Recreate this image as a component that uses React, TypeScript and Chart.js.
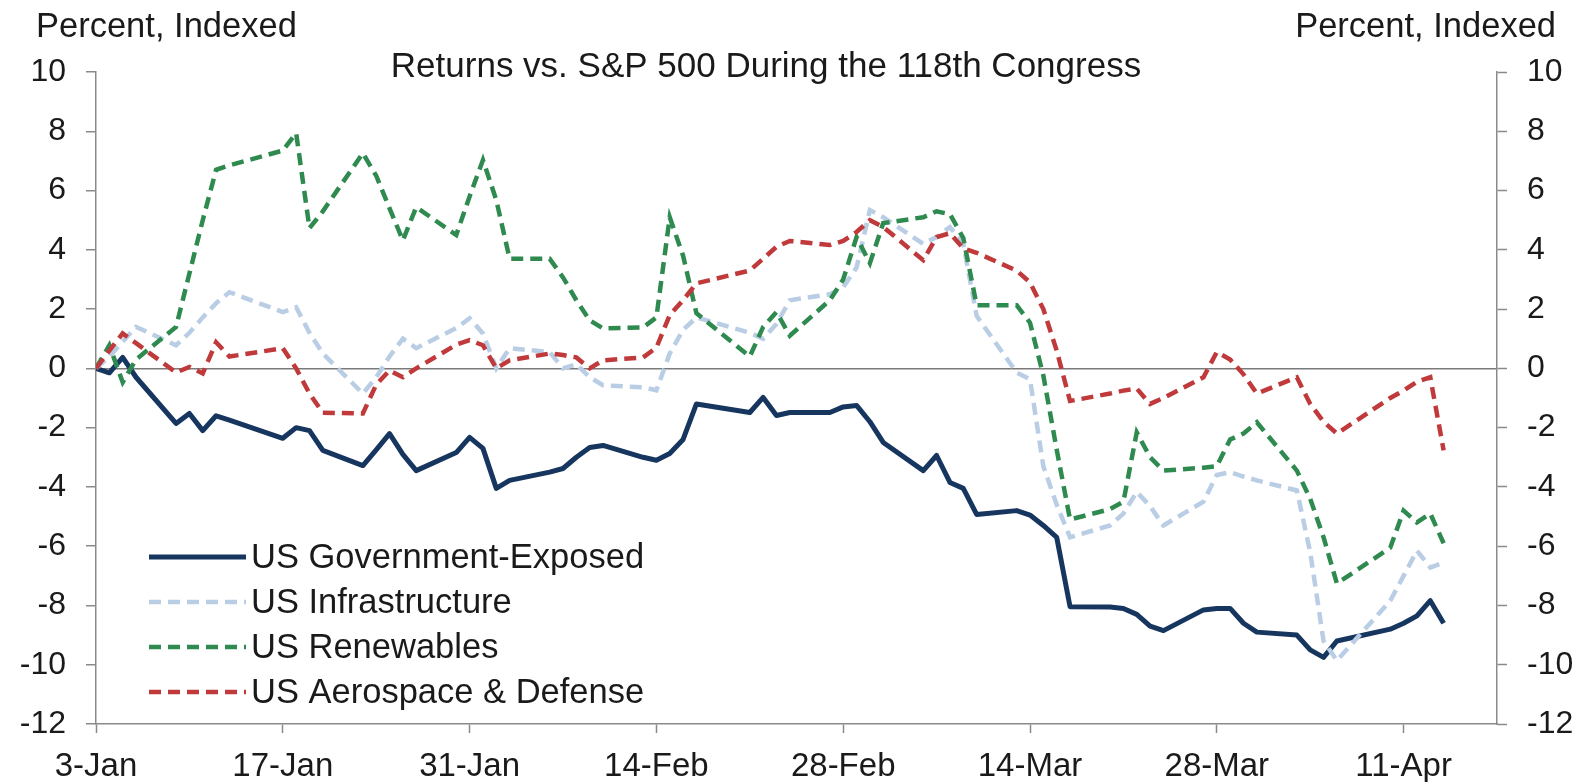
import { useEffect, useRef } from "react";
import { Chart, registerables } from "chart.js";

Chart.register(...registerables);

// ---------- DATA ----------
const dates = [
  "2023-01-03", "2023-01-04", "2023-01-05", "2023-01-06", "2023-01-09", "2023-01-10", "2023-01-11", "2023-01-12", "2023-01-13",
  "2023-01-17", "2023-01-18", "2023-01-19", "2023-01-20", "2023-01-23", "2023-01-24", "2023-01-25", "2023-01-26", "2023-01-27",
  "2023-01-30", "2023-01-31",
  "2023-02-01", "2023-02-02", "2023-02-03", "2023-02-06", "2023-02-07", "2023-02-08", "2023-02-09", "2023-02-10", "2023-02-13",
  "2023-02-14", "2023-02-15", "2023-02-16", "2023-02-17", "2023-02-21", "2023-02-22", "2023-02-23", "2023-02-24", "2023-02-27",
  "2023-02-28",
  "2023-03-01", "2023-03-02", "2023-03-03", "2023-03-06", "2023-03-07", "2023-03-08", "2023-03-09", "2023-03-10", "2023-03-13",
  "2023-03-14", "2023-03-15", "2023-03-16", "2023-03-17", "2023-03-20", "2023-03-21", "2023-03-22", "2023-03-23", "2023-03-24",
  "2023-03-27", "2023-03-28", "2023-03-29", "2023-03-30", "2023-03-31",
  "2023-04-03", "2023-04-04", "2023-04-05", "2023-04-06", "2023-04-10", "2023-04-11", "2023-04-12", "2023-04-13", "2023-04-14",
];

const govExposed = [
  0, -0.15, 0.37, -0.3, -1.86, -1.52, -2.1, -1.6, -1.75, -2.36, -2.0, -2.1, -2.77, -3.28, -2.75, -2.2, -2.9, -3.45, -2.84, -2.33,
  -2.7, -4.05, -3.78, -3.5, -3.38, -3.0, -2.67, -2.6, -3.0, -3.1, -2.87, -2.4, -1.2, -1.49, -0.98, -1.59, -1.49, -1.49, -1.3,
  -1.25, -1.8, -2.5, -3.45, -2.94, -3.85, -4.05, -4.93, -4.8, -4.95, -5.3, -5.7, -8.04, -8.05, -8.1, -8.3, -8.7, -8.85, -8.15,
  -8.1, -8.1, -8.6, -8.9,
  -9.0, -9.5, -9.75, -9.2, -8.8, -8.6, -8.35, -7.84, -8.6,
];

const infrastructure = [
  0, 0.4, 0.9, 1.4, 0.78, 1.2, 1.72, 2.2, 2.57, 1.9, 2.06, 1.2, 0.5, -0.85, -0.3, 0.4, 1.0, 0.68, 1.36, 1.69,
  1.18, 0.0, 0.68, 0.55, 0.0, 0.14, -0.3, -0.57, -0.64, -0.74, 0.5, 1.3, 1.72, 1.2, 1.0, 1.5, 2.3, 2.5, 2.74,
  3.4, 5.34, 5.1, 4.2, 4.43, 4.77, 4.2, 1.77, -0.14, -0.37, -3.3, -4.6, -5.7, -5.3, -4.9, -4.17, -4.65, -5.3, -4.5,
  -3.6, -3.5, -3.65, -3.78,
  -4.12, -6.2, -9.2, -9.86, -7.84, -7.0, -6.15, -6.72, -6.55,
];

const renewables = [
  0, 0.78, -0.47, 0.3, 1.4, 3.2, 5.0, 6.7, 6.85, 7.35, 7.94, 4.73, 5.3, 7.26, 6.5, 5.4, 4.32, 5.44, 4.5, 5.8,
  7.03, 5.68, 3.7, 3.7, 3.07, 2.3, 1.62, 1.35, 1.38, 1.72, 5.1, 3.8, 1.86, 0.4, 1.4, 1.9, 1.1, 2.3, 3.0,
  4.43, 3.55, 4.9, 5.1, 5.3, 5.2, 4.4, 2.13, 2.13, 1.54, -0.24, -2.74, -5.1, -4.75, -4.5, -2.16, -3.0, -3.45, -3.35,
  -3.3, -2.4, -2.2, -1.82,
  -3.45, -4.4, -5.7, -7.26, -6.05, -4.8, -5.2, -4.9, -5.9,
];

const aerospace = [
  0, 0.6, 1.18, 0.85, -0.14, 0.05, -0.17, 0.88, 0.4, 0.68, 0.0, -0.85, -1.5, -1.52, -0.55, -0.07, -0.3, 0.0, 0.8, 0.95,
  0.78, 0.0, 0.27, 0.5, 0.45, 0.37, 0.0, 0.27, 0.37, 0.7, 1.8, 2.3, 2.87, 3.3, 3.7, 4.1, 4.3, 4.16, 4.3,
  4.6, 5.0, 4.77, 3.65, 4.43, 4.56, 4.05, 3.9, 3.3, 2.9, 2.0, 0.6, -1.1, -0.85, -0.75, -0.68, -1.2, -1.0, -0.3,
  0.55, 0.3, -0.2, -0.85,
  -0.3, -1.2, -1.8, -2.2, -1.0, -0.75, -0.45, -0.3, -2.77,
];

const seriesNames = ["US Government-Exposed", "US Infrastructure", "US Renewables", "US Aerospace & Defense"];
const xTickDates = ["2023-01-03", "2023-01-17", "2023-01-31", "2023-02-14", "2023-02-28", "2023-03-14", "2023-03-28", "2023-04-11"];
const xTickLabels = ["3-Jan", "17-Jan", "31-Jan", "14-Feb", "28-Feb", "14-Mar", "28-Mar", "11-Apr"];
const axisEndDate = "2023-04-18";
const yMin = -12;
const yMax = 10;
const yStep = 2;
const chartTitle = "Returns vs. S&P 500 During the 118th Congress";
const axisTitle = "Percent, Indexed";

// ---------- STYLE ----------
const FONT = "'Liberation Sans', Arial, Helvetica, sans-serif";
const TEXT = "#1a1a1a";
const AXIS = "#8a8a8a";
const ZERO = "#7a7a7a";
const NAVY = "#17365f";
const LIGHTBLUE = "#b9cde5";
const GREEN = "#2e8a4e";
const RED = "#c0393b";

const dayOf = (s: string) =>
  (Date.parse(s + "T00:00:00Z") - Date.parse(dates[0] + "T00:00:00Z")) / 86400000;

const toPoints = (vals: number[]) => vals.map((v, i) => ({ x: dayOf(dates[i]), y: v }));

const overlayPlugin = {
  id: "overlayText",
  afterDraw(chart: any) {
    const ctx = chart.ctx as CanvasRenderingContext2D;
    ctx.save();
    ctx.fillStyle = TEXT;
    ctx.textBaseline = "alphabetic";
    ctx.font = `34.5px ${FONT}`;
    ctx.textAlign = "left";
    ctx.fillText(axisTitle, 36, 37);
    ctx.textAlign = "right";
    ctx.fillText(axisTitle, 1556, 37);
    ctx.font = `35px ${FONT}`;
    ctx.textAlign = "center";
    ctx.fillText(chartTitle, 766, 77);

    // legend
    const ds = chart.data.datasets;
    ctx.font = `34.5px ${FONT}`;
    ctx.textAlign = "left";
    ctx.textBaseline = "middle";
    ds.forEach((d: any, i: number) => {
      const y = 557 + i * 45;
      ctx.beginPath();
      ctx.setLineDash(d.borderDash || []);
      ctx.lineWidth = d.borderWidth;
      ctx.strokeStyle = d.borderColor;
      ctx.lineCap = "butt";
      ctx.moveTo(149, y);
      ctx.lineTo(246, y);
      ctx.stroke();
      ctx.setLineDash([]);
      ctx.fillStyle = TEXT;
      ctx.fillText(d.label, 251, y + 1);
    });
    ctx.restore();
  },
};

export default function App() {
  const ref = useRef<HTMLCanvasElement>(null);

  useEffect(() => {
    if (!ref.current) return;
    const yTickCommon = {
      stepSize: yStep,
      font: { family: FONT, size: 32 },
      color: TEXT,
      padding: 20,
    };
    const chart = new Chart(ref.current, {
      type: "line",
      data: {
        datasets: [
          {
            label: seriesNames[0],
            data: toPoints(govExposed),
            borderColor: NAVY,
            borderWidth: 5,
            pointRadius: 0,
            borderJoinStyle: "round",
            order: 4,
          },
          {
            label: seriesNames[1],
            data: toPoints(infrastructure),
            borderColor: LIGHTBLUE,
            borderWidth: 4.5,
            borderDash: [12, 7],
            pointRadius: 0,
            order: 3,
          },
          {
            label: seriesNames[2],
            data: toPoints(renewables),
            borderColor: GREEN,
            borderWidth: 4.5,
            borderDash: [12, 7],
            pointRadius: 0,
            order: 2,
          },
          {
            label: seriesNames[3],
            data: toPoints(aerospace),
            borderColor: RED,
            borderWidth: 4.5,
            borderDash: [12, 7],
            pointRadius: 0,
            order: 1,
          },
        ] as any,
      },
      options: {
        animation: false,
        responsive: false,
        devicePixelRatio: 1,
        layout: { padding: { top: 72, left: 0, right: 0, bottom: 0 } },
        plugins: {
          legend: { display: false },
          tooltip: { enabled: false },
          title: { display: false },
        },
        elements: { line: { tension: 0 } },
        scales: {
          x: {
            type: "linear",
            min: 0,
            max: dayOf(axisEndDate),
            afterBuildTicks: (axis: any) => {
              axis.ticks = xTickDates.map((d) => ({ value: dayOf(d) }));
            },
            afterFit: (s: any) => {
              s.height = 58;
            },
            ticks: {
              autoSkip: false,
              maxRotation: 0,
              font: { family: FONT, size: 33 },
              color: TEXT,
              padding: 14,
              callback: (v: any) => {
                const i = xTickDates.findIndex((d) => dayOf(d) === v);
                return i >= 0 ? xTickLabels[i] : "";
              },
            },
            grid: {
              drawOnChartArea: false,
              drawTicks: true,
              tickLength: 9,
              tickColor: AXIS,
              tickWidth: 1.5,
            },
            border: { color: AXIS, width: 1.5 },
          },
          y: {
            type: "linear",
            position: "left",
            min: yMin,
            max: yMax,
            afterFit: (s: any) => {
              s.width = 96;
            },
            ticks: yTickCommon,
            grid: {
              color: (c: any) => (c.tick && c.tick.value === 0 ? ZERO : "rgba(0,0,0,0)"),
              lineWidth: 1.5,
              drawTicks: true,
              tickLength: 10,
              tickColor: AXIS,
              tickWidth: 1.5,
            },
            border: { color: AXIS, width: 1.5 },
          },
          y2: {
            type: "linear",
            position: "right",
            min: yMin,
            max: yMax,
            afterFit: (s: any) => {
              s.width = 89;
            },
            ticks: yTickCommon,
            grid: {
              drawOnChartArea: false,
              drawTicks: true,
              tickLength: 10,
              tickColor: AXIS,
              tickWidth: 1.5,
            },
            border: { color: AXIS, width: 1.5 },
          },
        },
      } as any,
      plugins: [overlayPlugin],
    });
    return () => chart.destroy();
  }, []);

  return (
    <div style={{ position: "fixed", left: 0, top: 0, width: 1586, height: 782, background: "#fff" }}>
      <canvas ref={ref} width={1586} height={782} style={{ display: "block" }} />
    </div>
  );
}
